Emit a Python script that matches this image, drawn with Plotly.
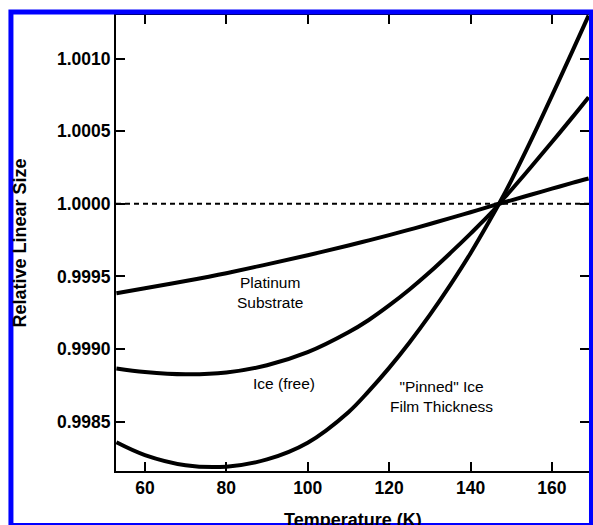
import plotly.graph_objects as go

# Temperature grid (K)
temperature = [53, 60, 70, 80, 90, 100, 110, 115, 120, 125, 130, 135, 140, 145, 147, 150, 155, 160, 165, 169]

# Relative linear size of each material
platinum = [0.999384, 0.999418, 0.999468, 0.999522, 0.999583, 0.999646, 0.999713, 0.999748,
            0.999784, 0.999822, 0.999861, 0.999901, 0.999942, 0.999984, 1.000000, 1.000024,
            1.000064, 1.000104, 1.000144, 1.000174]
ice_free = [0.998866, 0.998842, 0.998826, 0.998838, 0.998888, 0.998978, 0.999115, 0.999200,
            0.999300, 0.999410, 0.999530, 0.999660, 0.999795, 0.999935, 1.000000, 1.000095,
            1.000258, 1.000425, 1.000595, 1.000734]
ice_pinned = [0.998358, 0.998270, 0.998200, 0.998190, 0.998240, 0.998355, 0.998565, 0.998710,
              0.998870, 0.999045, 0.999235, 0.999440, 0.999660, 0.999900, 1.000000, 1.000160,
              1.000445, 1.000745, 1.001050, 1.001297]

reference_level = 1.0
x_ticks = [60, 80, 100, 120, 140, 160]
y_ticks = [0.9985, 0.9990, 0.9995, 1.0000, 1.0005, 1.0010]
x_range = [52.9, 169.1]
y_range = [0.99816, 1.0013]

curve_labels = ["Platinum<br>Substrate", "Ice (free)", "\"Pinned\" Ice<br>Film Thickness"]
label_x = [90.7, 94.1, 132.8]
label_y = [0.999389, 0.998765, 0.998673]

FONT = "Liberation Sans, Arial, Helvetica, sans-serif"

fig = go.Figure()

fig.add_trace(go.Scatter(
    x=[x_range[0], x_range[1]], y=[reference_level, reference_level],
    mode="lines", line=dict(color="black", width=2, dash="5px,4px"),
    hoverinfo="skip", showlegend=False))

for series in (platinum, ice_free, ice_pinned):
    fig.add_trace(go.Scatter(
        x=temperature, y=series, mode="lines",
        line=dict(color="black", width=4, shape="spline", smoothing=1.0),
        showlegend=False))

for text, tx, ty in zip(curve_labels, label_x, label_y):
    fig.add_annotation(x=tx, y=ty, xref="x", yref="y", text=text, showarrow=False,
                       font=dict(family=FONT, size=15.5, color="black"), align="center")

# Axis titles
fig.add_annotation(x=0.5, y=-0.107, xref="paper", yref="paper", text="<b>Temperature (K)</b>",
                   showarrow=False, xanchor="center", yanchor="middle",
                   font=dict(family=FONT, size=18, color="black"))
fig.add_annotation(x=-0.204, y=0.5, xref="paper", yref="paper", text="<b>Relative Linear Size</b>",
                   showarrow=False, xanchor="center", yanchor="middle", textangle=-90,
                   font=dict(family=FONT, size=18, color="black"))

# Blue frame around the figure
fig.add_shape(type="rect", xref="paper", yref="paper",
              x0=-0.2221, x1=1.00526, y0=-0.11952, y1=1.00658,
              line=dict(color="#0000FF", width=5), fillcolor="rgba(0,0,0,0)", layer="above")

axis_common = dict(showgrid=False, zeroline=False, showline=True, linecolor="black", linewidth=2,
                   ticks="inside", ticklen=9, tickwidth=2, tickcolor="black", mirror="ticks",
                   tickfont=dict(family=FONT, size=17.5, color="black"))

fig.update_xaxes(range=x_range, tickvals=x_ticks, ticktext=[f"<b>{v}</b>" for v in x_ticks],
                 **axis_common)
fig.update_yaxes(range=y_range, tickvals=y_ticks, ticktext=[f"<b>{v:.4f}</b>" for v in y_ticks],
                 **axis_common)

fig.update_layout(width=593, height=525, margin=dict(l=116, r=2, t=15, b=54),
                  plot_bgcolor="white", paper_bgcolor="white",
                  font=dict(family=FONT, color="black"))

fig.write_html("out.html")
